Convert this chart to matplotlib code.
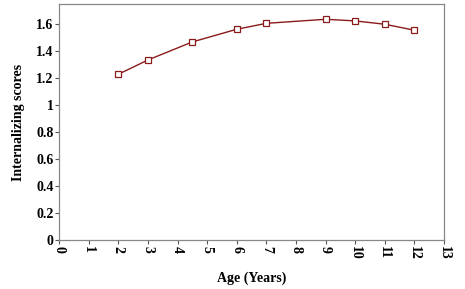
import matplotlib
matplotlib.use('Agg')
import matplotlib.pyplot as plt

age = [2, 3, 4.5, 6, 7, 9, 10, 11, 12]
scores = [1.229, 1.335, 1.469, 1.563, 1.607, 1.637, 1.625, 1.600, 1.556]
x_ticks = list(range(0, 14))
y_ticks = [0, 0.2, 0.4, 0.6, 0.8, 1, 1.2, 1.4, 1.6]
y_tick_labels = ['0', '0.2', '0.4', '0.6', '0.8', '1', '1.2', '1.4', '1.6']

plt.rcParams['font.family'] = 'Liberation Serif'
plt.rcParams['font.weight'] = 'bold'

fig = plt.figure(figsize=(4.65, 2.89), dpi=100)
ax = fig.add_axes([0.127, 0.1696, 0.828, 0.8164])

ax.plot(age, scores, color='#8b1a1a', linewidth=1.0, marker='s', markersize=4,
        markerfacecolor='white', markeredgecolor='#8b1a1a', markeredgewidth=0.9)

ax.set_xlim(0, 13)
ax.set_ylim(0, 1.75)
ax.set_xticks(x_ticks)
ax.set_xticklabels([str(t) for t in x_ticks], rotation=-90, fontsize=10, fontweight='bold')
ax.set_yticks(y_ticks)
ax.set_yticklabels(y_tick_labels, fontsize=10, fontweight='bold')
ax.tick_params(direction='out', length=3, width=0.8, color='#555555', pad=1)

for s in ax.spines.values():
    s.set_color('#888888')
    s.set_linewidth(0.9)

ax.set_xlabel('Age (Years)', fontsize=10, fontweight='bold', labelpad=9)
ax.set_ylabel('Internalizing scores', fontsize=10, fontweight='bold', labelpad=8)

fig.savefig('out.png', dpi=100)
